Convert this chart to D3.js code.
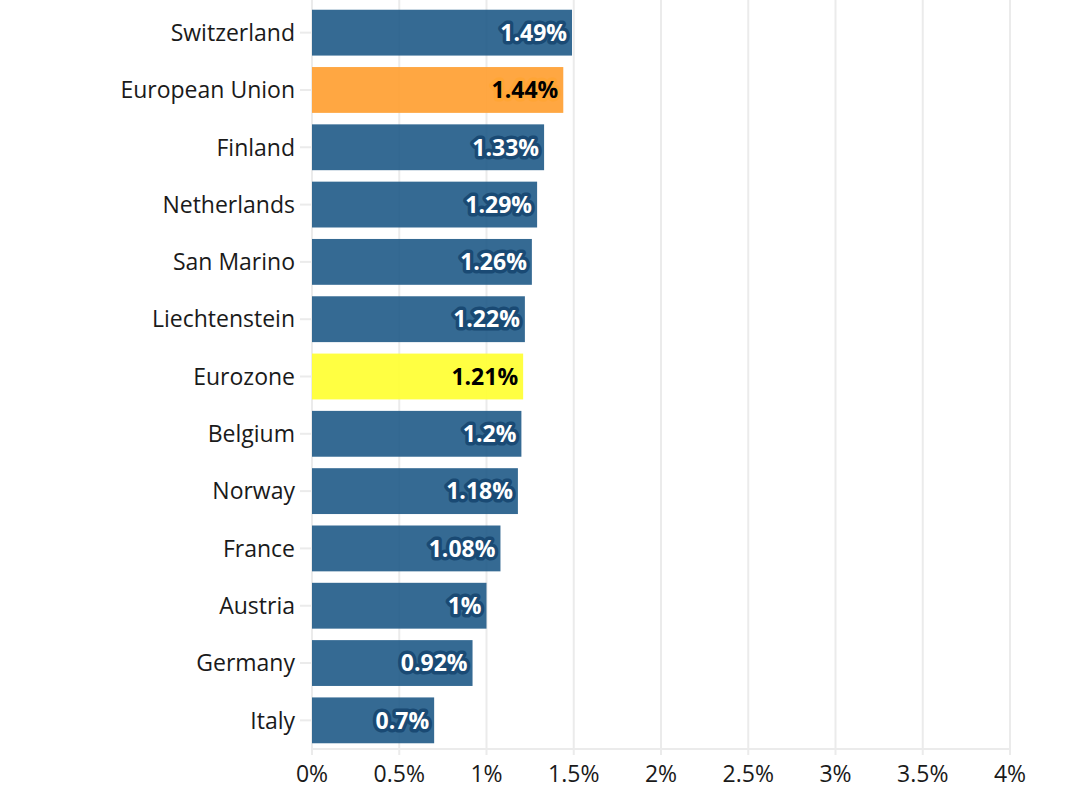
<!DOCTYPE html>
<html>
<head>
<meta charset="utf-8">
<script src="https://cdn.jsdelivr.net/npm/d3@7"></script>
<style>
  body { margin: 0; background: #fff; }
  text { font-family: "Open Sans", sans-serif; }
</style>
</head>
<body>
<svg id="chart" width="1066" height="800"></svg>
<script>
const countries = ["Switzerland", "European Union", "Finland", "Netherlands", "San Marino",
  "Liechtenstein", "Eurozone", "Belgium", "Norway", "France", "Austria", "Germany", "Italy"];
const values = [1.49, 1.44, 1.33, 1.29, 1.26, 1.22, 1.21, 1.2, 1.18, 1.08, 1, 0.92, 0.7];
const xTicks = [0, 0.5, 1, 1.5, 2, 2.5, 3, 3.5, 4];

const data = countries.map((c, i) => ({ name: c, value: values[i] }));

const fillOf = d => d.name === "European Union" ? "rgba(255,160,50,0.92)"
  : d.name === "Eurozone" ? "rgba(255,255,50,0.92)" : "rgba(31,90,135,0.9)";
const haloOf = d => d.name === "European Union" ? "#ffa535"
  : d.name === "Eurozone" ? "#ffff40" : "#1a4a74";
const textOf = d => (d.name === "European Union" || d.name === "Eurozone") ? "#000" : "#fff";

const svg = d3.select("#chart");
const margin = { left: 312, right: 56, top: 4, bottom: 51 };
const width = 1066, height = 800;

const x = d3.scaleLinear().domain([0, 4]).range([margin.left, width - margin.right]);
const y = d3.scaleBand().domain(countries)
  .range([margin.top, height - margin.bottom])
  .paddingInner(0.2).paddingOuter(0.1);

const axisY = height - margin.bottom;

// vertical gridlines
svg.append("g").selectAll("line")
  .data(xTicks)
  .enter()
  .append("line")
  .attr("x1", d => x(d)).attr("x2", d => x(d))
  .attr("y1", 0).attr("y2", axisY + 6)
  .attr("stroke", "#ebebeb")
  .attr("stroke-width", 2);

// bottom axis line
svg.append("line")
  .attr("x1", x(0)).attr("x2", x(4))
  .attr("y1", axisY).attr("y2", axisY)
  .attr("stroke", "#ebebeb")
  .attr("stroke-width", 2);

// x tick labels
svg.append("g").selectAll("text")
  .data(xTicks)
  .enter()
  .append("text")
  .attr("x", d => x(d))
  .attr("y", axisY + 33)
  .attr("text-anchor", "middle")
  .style("font-size", "23px")
  .attr("fill", "#1a1a1a")
  .text(d => d + "%");

// y ticks + labels
const yg = svg.append("g");
yg.selectAll("line")
  .data(countries)
  .enter()
  .append("line")
  .attr("x1", x(0) - 12).attr("x2", x(0))
  .attr("y1", d => y(d) + y.bandwidth() / 2)
  .attr("y2", d => y(d) + y.bandwidth() / 2)
  .attr("stroke", "#ebebeb")
  .attr("stroke-width", 2);

yg.selectAll("text")
  .data(countries)
  .enter()
  .append("text")
  .attr("x", x(0) - 17)
  .attr("y", d => y(d) + y.bandwidth() / 2)
  .attr("dy", "0.36em")
  .attr("text-anchor", "end")
  .style("font-size", "23px")
  .attr("fill", "#1a1a1a")
  .text(d => d);

// bars
svg.append("g").selectAll("rect")
  .data(data)
  .enter()
  .append("rect")
  .attr("x", x(0))
  .attr("y", d => y(d.name))
  .attr("width", d => x(d.value) - x(0))
  .attr("height", y.bandwidth())
  .attr("fill", fillOf);

// value labels with halo
svg.append("g").selectAll("text")
  .data(data)
  .enter()
  .append("text")
  .attr("x", d => x(d.value) - 5)
  .attr("y", d => y(d.name) + y.bandwidth() / 2)
  .attr("dy", "0.36em")
  .attr("text-anchor", "end")
  .style("font-size", "23px")
  .style("font-weight", "bold")
  .attr("fill", textOf)
  .attr("stroke", haloOf)
  .attr("stroke-width", 7)
  .attr("stroke-linejoin", "round")
  .attr("paint-order", "stroke")
  .text(d => d.value + "%");
</script>
</body>
</html>
